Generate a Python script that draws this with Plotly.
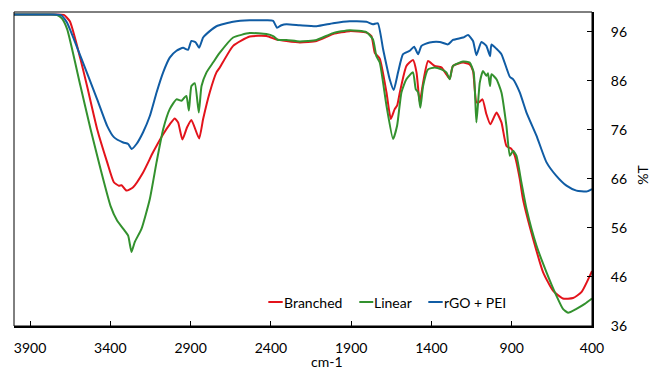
import plotly.graph_objects as go

# ---------------- data ----------------
blue_wn = [4000, 3777, 3710, 3671, 3586, 3482, 3420, 3378, 3320, 3289, 3268, 3237, 3196, 3154, 3112,
           3071, 3030, 2988, 2947, 2916, 2895, 2868, 2847, 2822, 2781, 2739, 2635, 2532, 2428, 2386,
           2362, 2334, 2303, 2220, 2116, 2013, 1909, 1805, 1764, 1734, 1701, 1660, 1635, 1608, 1577,
           1535, 1508, 1483, 1462, 1411, 1348, 1297, 1266, 1203, 1172, 1141, 1120, 1089, 1058, 1035,
           1026, 995, 964, 912, 892, 850, 808, 746, 684, 622, 559, 497, 435, 400]
blue_T = [99.5, 99.5, 99.4, 97.9, 91.0, 82.2, 76.8, 74.5, 73.4, 73.1, 72.1, 73.1, 75.5, 78.8, 83.6,
          87.7, 90.7, 92.1, 92.7, 92.3, 94.1, 93.8, 92.7, 94.8, 96.1, 97.1, 98.0, 98.3, 98.3, 98.2,
          96.8, 97.3, 97.5, 97.3, 97.1, 97.7, 98.1, 98.0, 97.5, 97.7, 92.4, 86.3, 84.1, 87.7, 91.4,
          92.1, 92.9, 91.4, 93.1, 93.8, 93.9, 93.4, 94.3, 94.8, 95.3, 94.1, 91.2, 93.9, 93.1, 91.0,
          93.4, 92.5, 91.4, 86.8, 86.3, 83.6, 79.5, 74.8, 69.4, 66.6, 64.6, 63.6, 63.4, 63.9]

red_wn = [4000, 3777, 3690, 3652, 3586, 3545, 3482, 3420, 3378, 3347, 3330, 3299, 3258, 3196, 3134,
          3071, 3030, 2999, 2978, 2951, 2922, 2895, 2847, 2822, 2781, 2739, 2718, 2635, 2532, 2428,
          2365, 2303, 2220, 2116, 2013, 1909, 1805, 1774, 1753, 1722, 1680, 1653, 1629, 1614, 1597,
          1556, 1515, 1493, 1473, 1452, 1421, 1380, 1338, 1307, 1286, 1266, 1203, 1162, 1141, 1120,
          1104, 1082, 1058, 1033, 995, 964, 933, 902, 881, 850, 830, 767, 705, 643, 581,
          518, 466, 400]
red_T = [99.5, 99.5, 99.4, 98.1, 90.4, 84.9, 76.1, 69.4, 65.3, 64.6, 64.7, 63.6, 64.3, 67.3, 71.4,
         75.1, 77.1, 78.3, 77.5, 74.0, 76.5, 78.0, 74.2, 78.2, 83.6, 87.7, 88.7, 93.1, 95.0, 95.1,
         94.4, 94.1, 93.8, 94.1, 95.5, 96.1, 95.8, 95.1, 91.7, 90.5, 83.6, 78.2, 80.2, 80.9, 83.6,
         89.0, 90.2, 87.7, 81.6, 85.6, 90.0, 89.0, 88.7, 87.3, 86.4, 89.0, 89.7, 89.3, 88.0, 81.6,
         81.6, 82.2, 79.2, 77.1, 79.5, 77.5, 72.7, 72.1, 70.7, 66.0, 61.9, 53.8, 47.0, 43.2, 41.6,
         41.7, 42.9, 47.2]

green_wn = [4000, 3777, 3731, 3702, 3669, 3586, 3523, 3461, 3399, 3358, 3310, 3289, 3268, 3248, 3206,
            3154, 3112, 3071, 3030, 2988, 2957, 2943, 2926, 2911, 2895, 2874, 2849, 2832, 2801, 2760,
            2718, 2635, 2532, 2428, 2386, 2355, 2303, 2220, 2116, 2013, 1909, 1805, 1764, 1743, 1722,
            1680, 1639, 1614, 1587, 1556, 1515, 1498, 1483, 1469, 1452, 1421, 1380, 1338, 1307, 1286,
            1266, 1203, 1162, 1137, 1120, 1099, 1079, 1058, 1048, 1035, 1026, 995, 964, 933, 912,
            892, 871, 840, 808, 746, 684, 622, 581, 549, 497, 445, 400]
green_T = [99.5, 99.5, 99.4, 98.7, 96.5, 84.9, 76.1, 68.0, 60.5, 57.5, 55.4, 54.4, 51.1, 53.1, 55.8,
           61.9, 69.4, 76.1, 80.2, 82.2, 81.9, 82.4, 82.9, 79.9, 84.9, 85.5, 79.5, 84.9, 87.7, 89.7,
           91.7, 94.8, 95.7, 95.5, 95.1, 94.3, 94.3, 94.0, 94.3, 95.7, 96.3, 95.9, 94.4, 91.0, 89.7,
           80.9, 74.1, 76.8, 83.6, 86.3, 87.7, 84.3, 83.6, 80.5, 84.9, 88.3, 88.7, 88.3, 87.7, 86.3,
           89.0, 89.9, 89.7, 87.7, 77.5, 85.6, 88.0, 87.0, 87.5, 84.9, 87.3, 86.3, 83.6, 76.8, 70.7,
           71.7, 70.7, 65.3, 59.9, 52.4, 47.0, 42.2, 39.5, 38.7, 39.5, 40.5, 41.6]

series_names = ["Branched", "Linear", "rGO + PEI"]
x_ticks = [3900, 3400, 2900, 2400, 1900, 1400, 900, 400]
y_ticks = [36, 46, 56, 66, 76, 86, 96]
x_title = "cm-1"
y_title = "%T"

# ---------------- style ----------------
colors = {"Branched": "#E3131B", "Linear": "#33912E", "rGO + PEI": "#105CA4"}
FONT = "Lato"

fig = go.Figure()
for name, xs, ys in [("Branched", red_wn, red_T), ("Linear", green_wn, green_T), ("rGO + PEI", blue_wn, blue_T)]:
    fig.add_trace(go.Scatter(x=xs, y=ys, mode="lines", name=name,
                             line=dict(color=colors[name], width=2, shape="spline", smoothing=0.5)))

fig.update_layout(
    width=652, height=371,
    margin=dict(l=14, r=60, t=12, b=45),
    plot_bgcolor="white", paper_bgcolor="white",
    showlegend=False,
    font=dict(family=FONT, size=14, color="black"),
)
fig.update_xaxes(range=[4000, 400], tickvals=x_ticks, ticktext=[str(v) for v in x_ticks],
                 ticks="inside", ticklen=5, tickwidth=1, tickcolor="black",
                 showline=True, linewidth=2, linecolor="black",
                 showgrid=False, zeroline=False, ticklabelstandoff=8, automargin=False)
fig.update_yaxes(range=[36, 100], tickvals=y_ticks, ticktext=[str(v) for v in y_ticks], side="right",
                 ticks="inside", ticklen=5, tickwidth=1, tickcolor="black",
                 showline=True, linewidth=2, linecolor="black",
                 showgrid=False, zeroline=False, ticklabelstandoff=14, automargin=False)

# thin frame on top / left
fig.add_shape(type="rect", xref="paper", yref="paper", x0=0, y0=0, x1=1, y1=1,
              line=dict(color="black", width=1), layer="above")

# axis titles
fig.add_annotation(text=x_title, xref="paper", yref="paper", x=0.5415, y=-0.1146,
                   showarrow=False, xanchor="center", yanchor="middle", font=dict(size=14))
fig.add_annotation(text=y_title, xref="paper", yref="paper", x=1.088, y=0.481, textangle=-90,
                   showarrow=False, xanchor="center", yanchor="middle", font=dict(size=14))

# legend (inside plot, bottom)
leg_y = 0.0764
leg_items = [("Branched", 0.4400, 0.4649), ("Linear", 0.5974, 0.6216), ("rGO + PEI", 0.7168, 0.7417)]
for name, x0, x1 in leg_items:
    fig.add_shape(type="line", xref="paper", yref="paper", x0=x0, x1=x1, y0=leg_y, y1=leg_y,
                  line=dict(color=colors[name], width=2))
    fig.add_annotation(text=name, xref="paper", yref="paper", x=x1, y=leg_y, showarrow=False,
                       xanchor="left", yanchor="middle", font=dict(size=14), borderpad=0)

fig.write_html("out.html", config={"displayModeBar": False},
               post_script="document.body.style.margin='0px';")
